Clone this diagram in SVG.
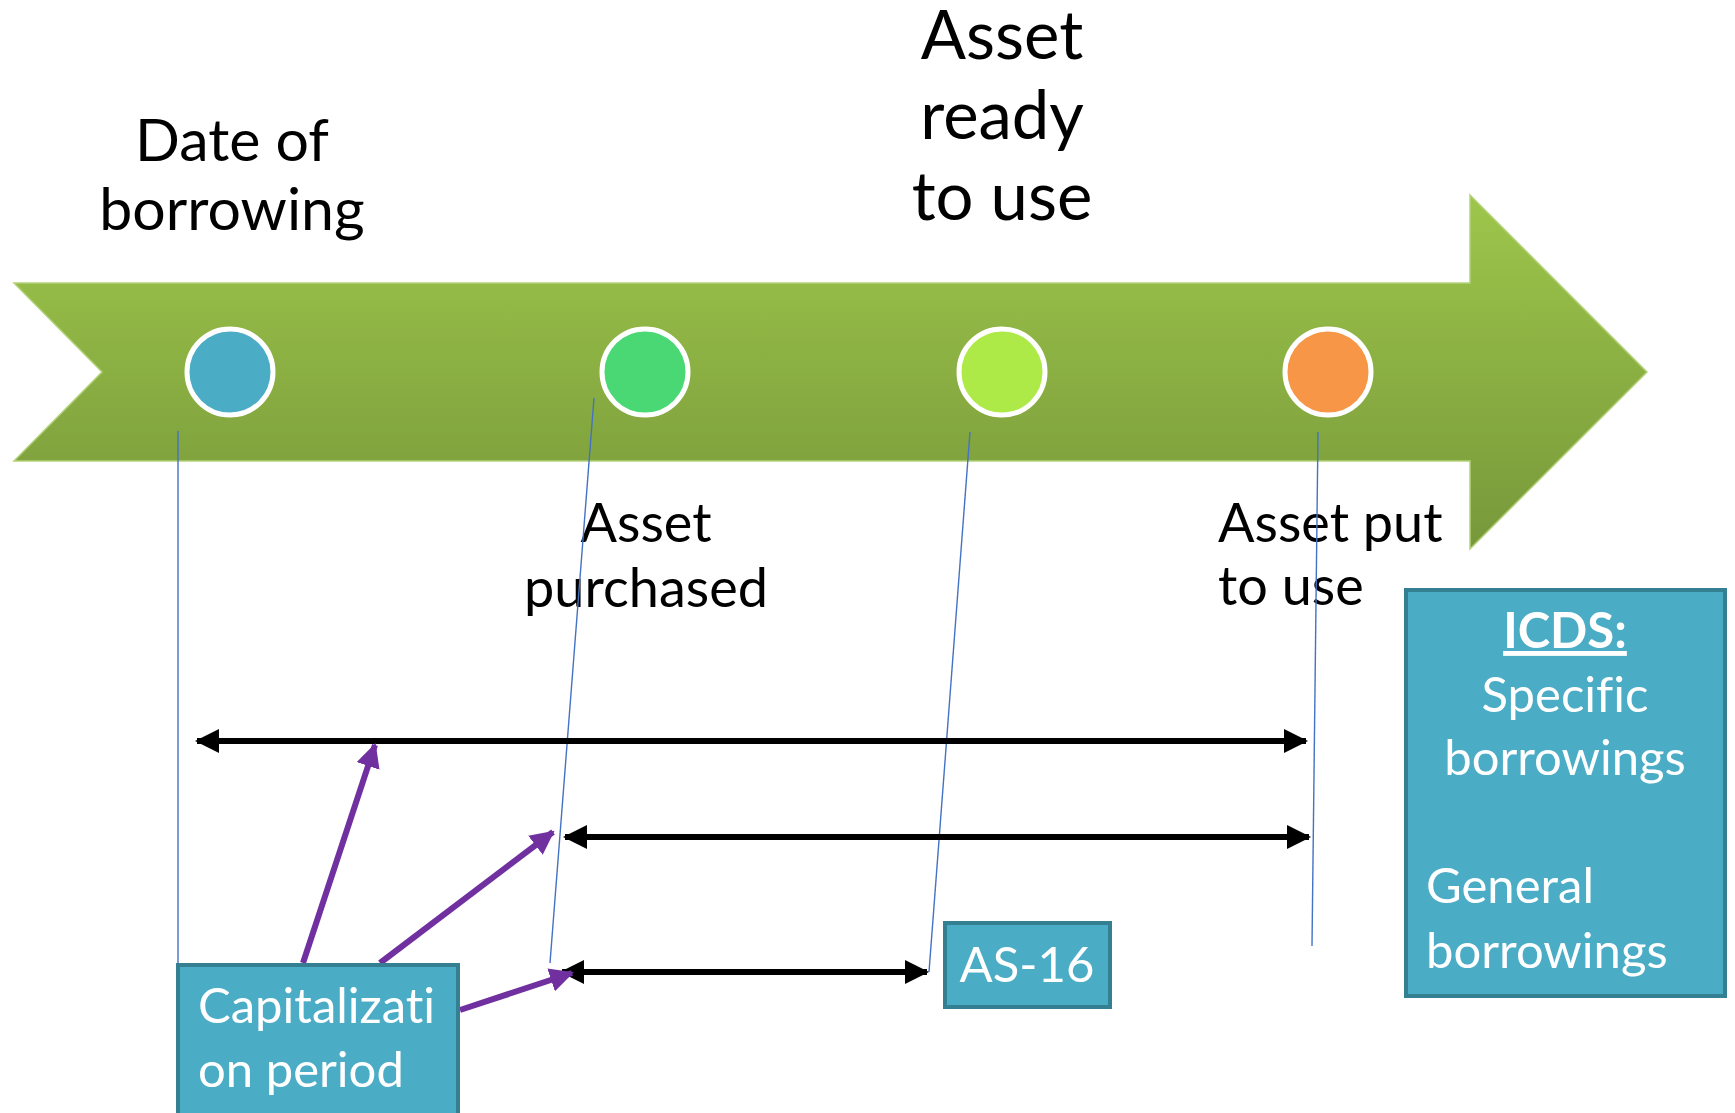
<svg xmlns="http://www.w3.org/2000/svg" width="1735" height="1113" viewBox="0 0 1735 1113">
<defs>
<linearGradient id="g" x1="0" y1="195" x2="0" y2="549" gradientUnits="userSpaceOnUse">
<stop offset="0" stop-color="#9EC64B"/>
<stop offset="1" stop-color="#77983A"/>
</linearGradient>
<marker id="bk" viewBox="0 0 24 24" refX="22" refY="12" markerWidth="24" markerHeight="24" markerUnits="userSpaceOnUse" orient="auto-start-reverse">
<path d="M0,0 L24,12 L0,24 Z" fill="#000"/>
</marker>
<marker id="pu" viewBox="0 0 24 24" refX="22" refY="12" markerWidth="24" markerHeight="24" markerUnits="userSpaceOnUse" orient="auto">
<path d="M0,0 L24,12 L0,24 Z" fill="#7030A0"/>
</marker>
</defs>
<style>
text{font-variant-ligatures:none;font-feature-settings:"liga" 0,"clig" 0,"dlig" 0}
.t{font-family:Lato,"Open Sans","Liberation Sans",sans-serif;fill:#000}
.w{font-family:Lato,"Open Sans","Liberation Sans",sans-serif;fill:#fff}
.dot{stroke:#fff;stroke-width:5}
.lead{stroke:#4472C4;stroke-width:1.4;fill:none}
.blk{stroke:#000;stroke-width:6;fill:none;marker-start:url(#bk);marker-end:url(#bk)}
.pur{stroke:#7030A0;stroke-width:6;fill:none;marker-end:url(#pu)}
.box{fill:#4BACC6;stroke:#357F92;stroke-width:4}
</style>
<g id="timeline">
<polygon points="14,283 1470,283 1470,195 1647,372 1470,549 1470,461 14,461 102,372" fill="url(#g)" stroke="#B3D27A" stroke-width="1.5"/>
</g>
<g id="dot-borrowing"><circle class="dot" cx="230" cy="372" r="43" fill="#4BACC6"/></g>
<g id="dot-purchased"><circle class="dot" cx="645" cy="372" r="43" fill="#49D874"/></g>
<g id="dot-ready"><circle class="dot" cx="1002" cy="372" r="43" fill="#ADEA47"/></g>
<g id="dot-put"><circle class="dot" cx="1328" cy="372" r="43" fill="#F79646"/></g>
<g id="label-borrowing">
<text class="t" font-size="59" text-anchor="middle"><tspan x="232" y="161">Date of</tspan><tspan x="232" y="230">borrowing</tspan></text>
</g>
<g id="label-ready">
<text class="t" font-size="67" text-anchor="middle"><tspan x="1002" y="59">Asset</tspan><tspan x="1002" y="139">ready</tspan><tspan x="1002" y="220">to use</tspan></text>
</g>
<g id="label-purchased">
<text class="t" font-size="54" text-anchor="middle"><tspan x="646" y="542">Asset</tspan><tspan x="646" y="607">purchased</tspan></text>
</g>
<g id="label-put">
<text class="t" font-size="54"><tspan x="1218" y="542">Asset put</tspan><tspan x="1218" y="605">to use</tspan></text>
</g>
<g id="connectors">
<line class="lead" x1="178" y1="431" x2="178" y2="963"/>
<line class="lead" x1="594" y1="398" x2="550" y2="963"/>
<line class="lead" x1="970" y1="432" x2="929" y2="972"/>
<line class="lead" x1="1318" y1="432" x2="1312" y2="946"/>
<line class="blk" x1="197" y1="741" x2="1306" y2="741"/>
<line class="blk" x1="565" y1="837" x2="1309" y2="837"/>
<line class="blk" x1="562" y1="972" x2="927" y2="972"/>
<line class="pur" x1="303" y1="963" x2="375" y2="745"/>
<line class="pur" x1="380" y1="963" x2="553" y2="832"/>
<line class="pur" x1="460" y1="1010" x2="572" y2="973"/>
</g>
<g id="box-capitalization">
<rect class="box" x="178" y="965" width="280" height="170"/>
<text class="w" font-size="49"><tspan x="198" y="1023">Capitalizati</tspan><tspan x="198" y="1087">on period</tspan></text>
</g>
<g id="box-as16">
<rect class="box" x="945" y="923" width="165" height="84"/>
<text class="w" font-size="49" text-anchor="middle" x="1027" y="982">AS-16</text>
</g>
<g id="box-icds">
<rect class="box" x="1406" y="590" width="319" height="406"/>
<text class="w" font-size="49" text-anchor="middle" font-weight="bold" text-decoration="underline" x="1565" y="648">ICDS:</text>
<text class="w" font-size="49" text-anchor="middle"><tspan x="1565" y="712">Specific</tspan><tspan x="1565" y="775">borrowings</tspan></text>
<text class="w" font-size="49"><tspan x="1426" y="903">General</tspan><tspan x="1426" y="968">borrowings</tspan></text>
</g>
</svg>
